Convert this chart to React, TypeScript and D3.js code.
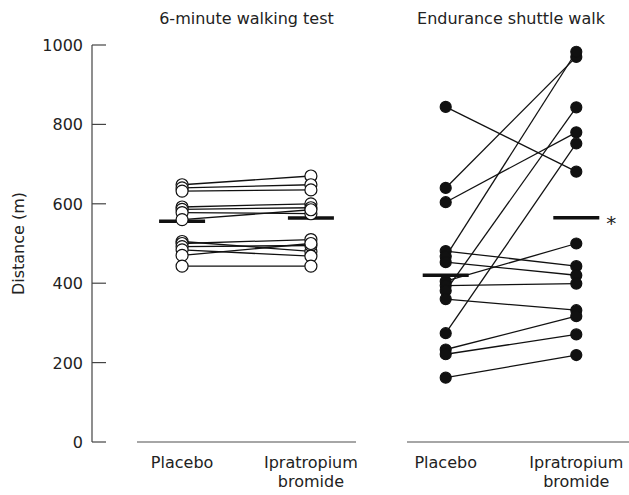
import React from "react";
import * as d3 from "d3";

// one value per subject
const groups = ["Placebo", "Ipratropium bromide"];
const yTicks = [0, 200, 400, 600, 800, 1000];

const walkPlacebo = [648, 640, 632, 592, 586, 578, 560, 505, 500, 492, 484, 470, 443];
const walkIpra = [670, 648, 635, 600, 590, 575, 585, 480, 510, 495, 468, 500, 443];
const walkMeans = [556, 564];

const shuttlePlacebo = [844, 640, 604, 481, 467, 453, 405, 394, 381, 360, 274, 233, 221, 162];
const shuttleIpra = [681, 970, 780, 443, 983, 420, 500, 399, 843, 332, 752, 317, 271, 219];
const shuttleMeans = [420, 565];

const W = 629;
const H = 495;
const FONT = "'DejaVu Sans', sans-serif";
const FS = 16;

const y = d3.scaleLinear().domain([0, 1000]).range([442, 45]);

const Panel = ({ title, range, lineRange, before, after, means, filled, star }) => {
  const x = d3.scalePoint().domain(groups).range(range).padding(0.35);
  const x0 = x(groups[0]);
  const x1 = x(groups[1]);
  const cx = (x0 + x1) / 2;
  return (
    <g>
      <text x={cx} y={24} textAnchor="middle" fontSize={FS} fontFamily={FONT} fill="#222">
        {title}
      </text>
      <line x1={lineRange[0]} x2={lineRange[1]} y1={y(0)} y2={y(0)} stroke="#888" strokeWidth={1.5} />
      {groups.map((g) => {
        const words = g.split(" ");
        return (
          <text key={g} x={x(g)} textAnchor="middle" fontSize={FS} fontFamily={FONT} fill="#222">
            {words.map((w, i) => (
              <tspan key={w} x={x(g)} y={468 + i * 19}>
                {w}
              </tspan>
            ))}
          </text>
        );
      })}
      {before.map((v, i) => (
        <line key={"l" + i} x1={x0} x2={x1} y1={y(v)} y2={y(after[i])} stroke="#111" strokeWidth={1.3} />
      ))}
      {means.map((m, i) => (
        <line
          key={"m" + i}
          x1={x(groups[i]) - 23}
          x2={x(groups[i]) + 23}
          y1={y(m)}
          y2={y(m)}
          stroke="#111"
          strokeWidth={3.5}
        />
      ))}
      {star && (
        <text x={x1 + 30} y={y(means[1]) + 12} fontSize={20} fontFamily={FONT} fill="#222">
          *
        </text>
      )}
      {[before, after].map((vals, k) =>
        vals.map((v, i) => (
          <circle
            key={k + "-" + i}
            cx={k === 0 ? x0 : x1}
            cy={y(v)}
            r={filled ? 5.5 : 6}
            fill={filled ? "#111" : "#fff"}
            stroke="#111"
            strokeWidth={1.2}
          />
        ))
      )}
    </g>
  );
};

export default function App() {
  return (
    <div style={{ position: "absolute", left: 0, top: 0 }}>
      <svg width={W} height={H} style={{ display: "block", background: "#fff" }}>
        <line x1={92} x2={92} y1={y(0)} y2={y(1000)} stroke="#444" strokeWidth={1.2} />
        {yTicks.map((t) => (
          <g key={t}>
            <line x1={92} x2={106} y1={y(t)} y2={y(t)} stroke="#444" strokeWidth={1.2} />
            <text x={83} y={y(t) + 6} textAnchor="end" fontSize={FS} fontFamily={FONT} fill="#222">
              {t}
            </text>
          </g>
        ))}
        <text
          transform={`translate(24,${(y(0) + y(1000)) / 2}) rotate(-90)`}
          textAnchor="middle"
          fontSize={FS}
          fontFamily={FONT}
          fill="#222"
        >
          Distance (m)
        </text>
        <Panel
          title="6-minute walking test"
          range={[137, 356]}
          lineRange={[137, 356]}
          before={walkPlacebo}
          after={walkIpra}
          means={walkMeans}
          filled={false}
          star={false}
        />
        <Panel
          title="Endurance shuttle walk"
          range={[400, 622]}
          lineRange={[407, 629]}
          before={shuttlePlacebo}
          after={shuttleIpra}
          means={shuttleMeans}
          filled={true}
          star={true}
        />
      </svg>
    </div>
  );
}
